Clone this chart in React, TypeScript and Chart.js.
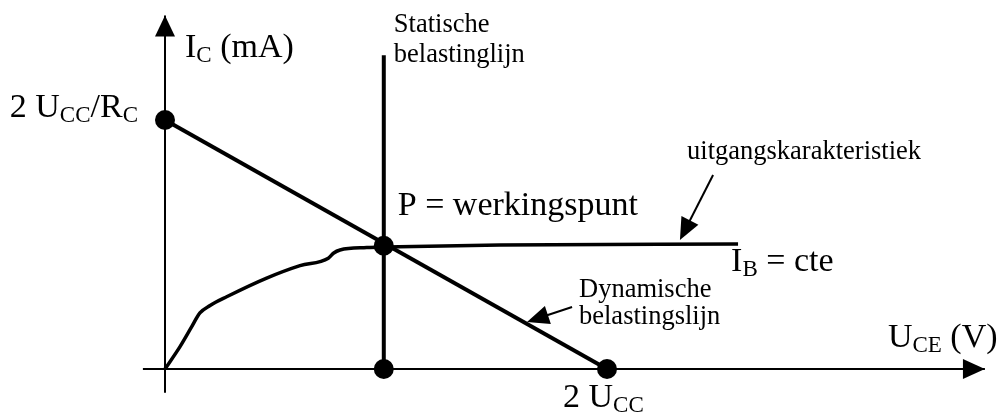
import React, { useEffect, useRef } from "react";
import { Chart, registerables } from "chart.js";

Chart.register(...registerables);

// ---- data (X in units of U_CC, Y in units of U_CC/R_C) ----
const UCC = 0.99;
const axisX = [-0.1, 3.71];
const axisY = [-0.19, 2.84];
const staticX = [UCC, UCC];
const staticY = [0, 2.52];
const loadX = [0, 2];
const loadY = [2, 0];
const charX = [0, 0.068, 0.121, 0.158, 0.204, 0.279, 0.46, 0.611, 0.739, 0.762, 0.792, 0.913, 0.995, 1.516, 2.593];
const charY = [0, 0.18, 0.34, 0.45, 0.51, 0.58, 0.73, 0.83, 0.89, 0.93, 0.956, 0.975, 0.98, 0.996, 1.004];
const pointX = [0, UCC, UCC, 2];
const pointY = [2, 0.99, 0, 0];
// annotation arrows: [tailX, tailY, tipX, tipY]
const arrowChar = [2.48, 1.558, 2.33, 1.036];
const arrowLoad = [1.842, 0.498, 1.638, 0.378];

const SERIF = '"Liberation Serif", "Times New Roman", serif';
const BIG = 34;
const SUB = 23;
const SMALL = 26.5;

type Part = [string, boolean];

function drawRich(ctx: CanvasRenderingContext2D, x: number, y: number, parts: Part[], align: "left" | "right" = "left") {
  ctx.save();
  ctx.textBaseline = "alphabetic";
  ctx.textAlign = "left";
  let total = 0;
  for (const [t, s] of parts) {
    ctx.font = `${s ? SUB : BIG}px ${SERIF}`;
    total += ctx.measureText(t).width;
  }
  let cx = align === "right" ? x - total : x;
  for (const [t, s] of parts) {
    ctx.font = `${s ? SUB : BIG}px ${SERIF}`;
    ctx.fillText(t, cx, s ? y + 5 : y);
    cx += ctx.measureText(t).width;
  }
  ctx.restore();
}

function head(ctx: CanvasRenderingContext2D, tx: number, ty: number, fx: number, fy: number, L: number, W: number) {
  const dx = tx - fx, dy = ty - fy;
  const len = Math.hypot(dx, dy) || 1;
  const ux = dx / len, uy = dy / len;
  const bx = tx - ux * L, by = ty - uy * L;
  ctx.beginPath();
  ctx.moveTo(tx, ty);
  ctx.lineTo(bx - uy * W, by + ux * W);
  ctx.lineTo(bx + uy * W, by - ux * W);
  ctx.closePath();
  ctx.fill();
}

const pts = (xs: number[], ys: number[]) => xs.map((x, i) => ({ x, y: ys[i] }));

const annotate = {
  id: "annotate",
  afterDatasetsDraw(chart: any) {
    const ctx: CanvasRenderingContext2D = chart.ctx;
    const sx = chart.scales.x, sy = chart.scales.y;
    const px = (v: number) => sx.getPixelForValue(v);
    const py = (v: number) => sy.getPixelForValue(v);
    ctx.save();
    ctx.fillStyle = "#000";
    ctx.strokeStyle = "#000";
    // axis arrowheads
    head(ctx, px(0), py(axisY[1]), px(0), py(0), 21, 10);
    head(ctx, px(axisX[1]), py(0), px(0), py(0), 22, 10);
    // annotation arrows
    for (const a of [arrowChar, arrowLoad]) {
      const x1 = px(a[0]), y1 = py(a[1]), x2 = px(a[2]), y2 = py(a[3]);
      const len = Math.hypot(x2 - x1, y2 - y1);
      const k = (len - 18) / len;
      ctx.lineWidth = 2;
      ctx.beginPath();
      ctx.moveTo(x1, y1);
      ctx.lineTo(x1 + (x2 - x1) * k, y1 + (y2 - y1) * k);
      ctx.stroke();
      head(ctx, x2, y2, x1, y1, 22, 9.5);
    }
    // texts
    const y0 = px(0);
    drawRich(ctx, y0 + 20, py(axisY[1]) + 42, [["I", false], ["C", true], [" (mA)", false]]);
    drawRich(ctx, y0 - 27, py(2) - 3, [["2 U", false], ["CC", true], ["/R", false], ["C", true]], "right");
    drawRich(ctx, px(UCC) + 14, py(pointY[1]) - 31, [["P = werkingspunt", false]]);
    const endX = px(charX[charX.length - 1]), endY = py(charY[charY.length - 1]);
    drawRich(ctx, endX - 7, endY + 27, [["I", false], ["B", true], [" = cte", false]]);
    drawRich(ctx, px(axisX[1]) - 97, py(0) - 22, [["U", false], ["CE", true], [" (V)", false]]);
    drawRich(ctx, px(2) - 44, py(0) + 38, [["2 U", false], ["CC", true]]);
    ctx.font = `${SMALL}px ${SERIF}`;
    ctx.textAlign = "left";
    ctx.textBaseline = "alphabetic";
    const st = py(staticY[1]);
    ctx.fillText("Statische", px(UCC) + 10, st - 23);
    ctx.fillText("belastinglijn", px(UCC) + 10, st + 7);
    ctx.fillText("uitgangskarakteristiek", endX - 51, endY - 85);
    ctx.fillText("Dynamische", px(2) - 28, py(0) - 72);
    ctx.fillText("belastingslijn", px(2) - 28, py(0) - 45);
    ctx.restore();
  },
};

export default function App() {
  const ref = useRef<HTMLCanvasElement>(null);
  useEffect(() => {
    if (!ref.current) return;
    const line = (data: any, w: number, extra: any = {}) => ({
      type: "line",
      data,
      borderColor: "#000",
      backgroundColor: "#000",
      borderWidth: w,
      pointRadius: 0,
      fill: false,
      tension: 0,
      ...extra,
    });
    const chart = new Chart(ref.current, {
      type: "line",
      data: {
        datasets: [
          line(pts(axisX, [0, 0]), 2),
          line(pts([0, 0], axisY), 2),
          line(pts(staticX, staticY), 4),
          line(pts(loadX, loadY), 4),
          line(pts(charX, charY), 3.5, { cubicInterpolationMode: "monotone" }),
          line(pts(pointX, pointY), 0, { showLine: false, pointRadius: 10, pointBorderWidth: 0, pointBackgroundColor: "#000" }),
        ] as any,
      },
      options: {
        animation: false,
        responsive: false,
        parsing: true,
        layout: { padding: 0, autoPadding: false },
        events: [],
        plugins: { legend: { display: false }, tooltip: { enabled: false } },
        scales: {
          x: { type: "linear", display: false, min: -165 / 221, max: 832 / 221 },
          y: { type: "linear", display: false, min: -45 / 124.5, max: 369 / 124.5 },
        },
      },
      plugins: [annotate],
    } as any);
    return () => chart.destroy();
  }, []);
  return (
    <div style={{ position: "fixed", left: 0, top: 0, width: 997, height: 414, background: "#fff" }}>
      <canvas ref={ref} width={997} height={414} style={{ display: "block" }} />
    </div>
  );
}
